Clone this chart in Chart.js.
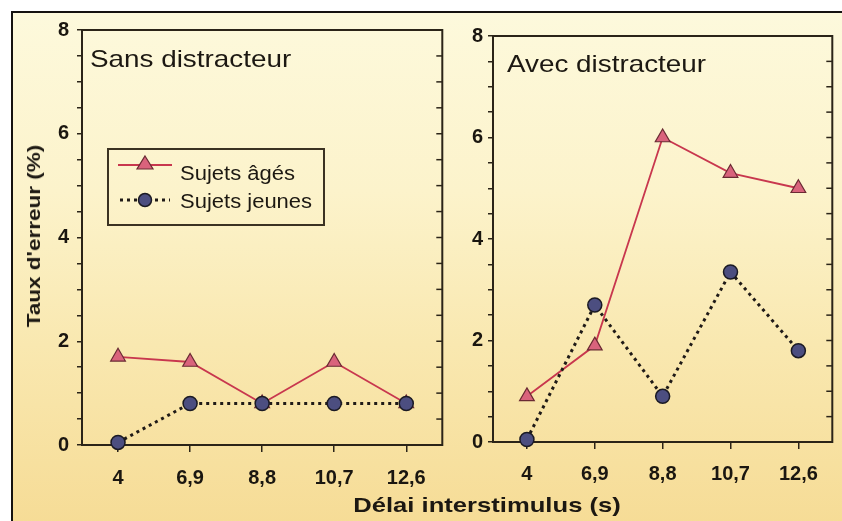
<!DOCTYPE html>
<html>
<head>
<meta charset="utf-8">
<script src="https://cdn.jsdelivr.net/npm/chart.js@4"></script>
<style>
  html, body { margin: 0; padding: 0; background: #fff; }
  #page { position: relative; width: 842px; height: 521px; overflow: hidden; }
  #frame {
    position: absolute; left: 11px; top: 11px; width: 831px; height: 510px;
    border-left: 2px solid #151210; border-top: 2px solid #151210;
    background: linear-gradient(to bottom, #fdf9dc 0%, #fcf3cb 35%, #f9e8b0 65%, #f6dc96 100%);
  }
  canvas { position: absolute; top: 0; }
  #leftCanvas { left: 0; }
  #rightCanvas { left: 452px; }
  .txt { position: absolute; font-family: "Liberation Sans", Arial, sans-serif; color: #1c1812; white-space: nowrap; line-height: 1; }
  .panelTitle { font-size: 24px; transform-origin: 0 0; transform: scaleX(1.16); }
  #yTitle { left: 34px; top: 236px; font-size: 18px; font-weight: bold;
    transform: translate(-50%, -50%) rotate(-90deg) scaleX(1.25); }
  #xTitle { left: 487px; top: 494px; font-size: 21px; font-weight: bold;
    transform: translateX(-50%) scaleX(1.22); }
  #legend { position: absolute; left: 107px; top: 148px; width: 218px; height: 78px;
    box-sizing: border-box; border: 2px solid #3b3222; }
  #legend svg { position: absolute; left: 9px; }
  #legend .lab { position: absolute; left: 71px; font-size: 20px; transform-origin: 0 50%; transform: scaleX(1.1); }
</style>
</head>
<body>
<div id="page">
  <div id="frame"></div>
  <canvas id="leftCanvas" width="452" height="521"></canvas>
  <canvas id="rightCanvas" width="390" height="521"></canvas>
  <div class="txt panelTitle" style="left:90px; top:47px;">Sans distracteur</div>
  <div class="txt panelTitle" style="left:507px; top:52px;">Avec distracteur</div>
  <div class="txt" id="yTitle">Taux d'erreur (%)</div>
  <div class="txt" id="xTitle">Délai interstimulus (s)</div>
  <div id="legend">
    <svg width="54" height="20" style="top:4px">
      <line x1="0" y1="11" x2="54" y2="11" stroke="#c8374e" stroke-width="1.8"/>
      <polygon points="27,2 35,15 19,15" fill="#d9637c" stroke="#6a2a33" stroke-width="1.2"/>
    </svg>
    <div class="txt lab" style="top:13px;">Sujets âgés</div>
    <svg width="54" height="20" style="top:40px">
      <line x1="2" y1="10" x2="52" y2="10" stroke="#1f1a17" stroke-width="3" stroke-dasharray="3,4"/>
      <circle cx="27" cy="10" r="6.5" fill="#4c4e80" stroke="#1b1a24" stroke-width="1.5"/>
    </svg>
    <div class="txt lab" style="top:41px;">Sujets jeunes</div>
  </div>
</div>
<script>
// data
const delais = ["4", "6,9", "8,8", "10,7", "12,6"];
const agesSans = [1.7, 1.6, 0.8, 1.6, 0.8];
const jeunesSans = [0.05, 0.8, 0.8, 0.8, 0.8];
const agesAvec = [0.9, 1.9, 6.0, 5.3, 5.0];
const jeunesAvec = [0.05, 2.7, 0.9, 3.35, 1.8];
const yMin = 0;
const yMax = 8;
const yStep = 0.5;

const INK = "#2b2418";
const FONT = "'Liberation Sans', Arial, sans-serif";

// box around the plot area + inward ticks on the right side
const framePlugin = {
  id: "frame",
  beforeDatasetsDraw(chart) {
    const a = chart.chartArea;
    const ctx = chart.ctx;
    ctx.save();
    ctx.strokeStyle = INK;
    ctx.lineWidth = 2;
    ctx.strokeRect(a.left, a.top, a.right - a.left, a.bottom - a.top);
    ctx.lineWidth = 1.5;
    chart.scales.y.ticks.forEach(t => {
      const py = chart.scales.y.getPixelForValue(t.value);
      ctx.beginPath();
      ctx.moveTo(a.right, py);
      ctx.lineTo(a.right - 6, py);
      ctx.stroke();
    });
    ctx.restore();
  }
};

function makePanel(canvasId, ages, jeunes, pad, yWidth, xHeight, xLabelPad, yLabelPad) {
  const ctx = document.getElementById(canvasId).getContext("2d");
  return new Chart(ctx, {
    type: "line",
    data: {
      labels: delais,
      datasets: [
        {
          label: "Sujets jeunes",
          data: jeunes,
          order: 1,
          borderColor: "#1f1a17",
          borderWidth: 3,
          borderDash: [3, 4],
          pointStyle: "circle",
          pointRadius: 7,
          pointBackgroundColor: "#4c4e80",
          pointBorderColor: "#1b1a24",
          pointBorderWidth: 1.5,
          clip: false
        },
        {
          label: "Sujets âgés",
          data: ages,
          order: 2,
          borderColor: "#c8374e",
          borderWidth: 1.8,
          pointStyle: "triangle",
          pointRadius: 8.5,
          pointBackgroundColor: "#d9637c",
          pointBorderColor: "#6a2a33",
          pointBorderWidth: 1.2,
          clip: false
        }
      ]
    },
    options: {
      responsive: false,
      animation: false,
      layout: { padding: pad },
      plugins: { legend: { display: false }, tooltip: { enabled: false } },
      scales: {
        x: {
          offset: true,
          border: { display: false },
          grid: { drawOnChartArea: false, tickLength: 7, tickColor: INK, lineWidth: 1.5 },
          ticks: { color: "#1a1610", padding: xLabelPad, maxRotation: 0, font: { family: FONT, size: 20, weight: "bold" } },
          afterFit: s => { s.height = xHeight; }
        },
        y: {
          min: yMin,
          max: yMax,
          border: { display: false },
          grid: { drawOnChartArea: false, tickLength: 5, tickColor: INK, lineWidth: 1.5 },
          ticks: {
            stepSize: yStep,
            autoSkip: false,
            padding: yLabelPad,
            color: "#1a1610",
            font: { family: FONT, size: 20, weight: "bold" },
            callback: v => (v % 2 === 0 ? v : "")
          },
          afterFit: s => { s.width = yWidth; }
        }
      }
    },
    plugins: [framePlugin]
  });
}

makePanel("leftCanvas", agesSans, jeunesSans, { left: 0, top: 30, right: 8, bottom: 26 }, 82, 50, 14, 8);
makePanel("rightCanvas", agesAvec, jeunesAvec, { left: 0, top: 36, right: 1, bottom: 29 }, 41, 50, 13, 5);
</script>
</body>
</html>
